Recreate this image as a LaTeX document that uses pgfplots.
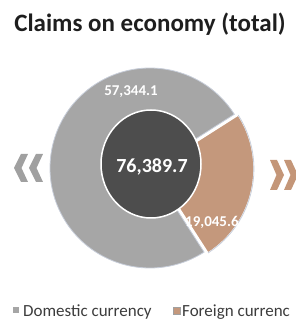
\documentclass[border=0pt]{standalone}
\usepackage{pgfplots}
\pgfplotsset{compat=1.18}
\usepackage{pgfplotstable}
\usepackage{fontspec}
\setmainfont{Carlito}
\definecolor{dom}{RGB}{166,166,166}
\definecolor{forc}{RGB}{196,152,124}
\definecolor{core}{RGB}{77,77,77}
\definecolor{rim}{RGB}{200,206,218}
\definecolor{chevg}{RGB}{160,160,160}
\definecolor{chevb}{RGB}{196,150,120}
\definecolor{titlec}{RGB}{30,30,30}
\definecolor{legc}{RGB}{60,60,60}

\pgfplotstableread{
label value
Domestic 57344.1
Foreign 19045.6
}\pietable

\begin{document}%
\begin{tikzpicture}
\pgfplotstablegetelem{0}{value}\of\pietable \let\vdom\pgfplotsretval
\pgfplotstablegetelem{1}{value}\of\pietable \let\vfor\pgfplotsretval
\pgfkeys{/pgf/fpu=true,/pgf/fpu/output format=fixed}
\pgfmathsetmacro\total{\vdom+\vfor}
\pgfmathsetmacro\afor{360*\vfor/(\vdom+\vfor)}
\pgfkeys{/pgf/fpu=false}
\pgfmathsetmacro\astart{32.5}
\pgfmathsetmacro\aend{\astart-\afor}
\pgfmathsetmacro\amid{\astart-\afor/2}
\pgfmathsetmacro\adomend{\aend+360}
\pgfkeys{/pgf/number format/.cd,fixed,fixed zerofill,precision=1,1000 sep={,},assume math mode=true}
\begin{axis}[hide axis, scale only axis, width=295pt, height=324pt,
  xmin=0, xmax=295, ymin=0, ymax=324, clip=false]
% domestic wedge
\fill[dom, draw=rim, line width=0.8pt] (axis cs:150,156) -- ++(\astart:100pt) arc[start angle=\astart, end angle=\adomend, radius=100pt] -- cycle;
% foreign wedge (slightly pulled out)
\fill[forc, draw=white, line width=1.2pt] (axis cs:150,156) ++(\amid:4pt) -- ++(\astart:100pt) arc[start angle=\astart, end angle=\aend, radius=100pt] -- cycle;
\draw[rim, line width=0.8pt] (axis cs:150,156) ++(\amid:4pt) ++(\astart:100pt) arc[start angle=\astart, end angle=\aend, radius=100pt];
% centre
\fill[core, draw=white, line width=1.5pt] (axis cs:151,160) ellipse[x radius=50pt, y radius=54pt];
% labels
\node[text=white, font=\bfseries\fontsize{20}{24}\selectfont] at (axis cs:152,157) {\pgfmathprintnumber{\total}};
\node[text=white, font=\bfseries\fontsize{15}{18}\selectfont] at (axis cs:131,232) {\pgfmathprintnumber{\vdom}};
\begin{scope}
\clip (axis cs:0,0) rectangle (axis cs:241,324);
\node[text=white, font=\bfseries\fontsize{15}{18}\selectfont, anchor=west, inner sep=0pt] at (axis cs:185,102) {\pgfmathprintnumber{\vfor}};
\end{scope}
% title
\node[text=titlec, font=\bfseries\fontsize{25}{30}\selectfont, anchor=base, inner sep=0pt] at (axis cs:150,292) {Claims on economy (total)};
% chevrons
\fill[chevg] (axis cs:28,170) -- (axis cs:21,170) -- (axis cs:14,156) -- (axis cs:21,142) -- (axis cs:28,142) -- (axis cs:21.5,156) -- cycle;
\fill[chevg] (axis cs:43,170) -- (axis cs:36,170) -- (axis cs:29,156) -- (axis cs:36,142) -- (axis cs:43,142) -- (axis cs:36.5,156) -- cycle;
\fill[chevb] (axis cs:270,164) -- (axis cs:277,164) -- (axis cs:284,149) -- (axis cs:277,134) -- (axis cs:270,134) -- (axis cs:276.5,149) -- cycle;
\fill[chevb] (axis cs:284,164) -- (axis cs:291,164) -- (axis cs:298,149) -- (axis cs:291,134) -- (axis cs:284,134) -- (axis cs:290.5,149) -- cycle;
% legend
\fill[dom] (axis cs:13,10.5) rectangle (axis cs:19,16.5);
\node[text=legc, anchor=base west, inner sep=0pt, font=\fontsize{17}{20}\selectfont] at (axis cs:23,8) {Domestic currency};
\fill[forc, draw=chevg, line width=0.5pt] (axis cs:173,10) rectangle (axis cs:180,17);
\node[text=legc, anchor=base west, inner sep=0pt, font=\fontsize{17}{20}\selectfont] at (axis cs:182,8) {Foreign currenc};
\end{axis}
\pgfresetboundingbox
\path (current axis.south west) rectangle (current axis.north east);
\end{tikzpicture}%
\end{document}
